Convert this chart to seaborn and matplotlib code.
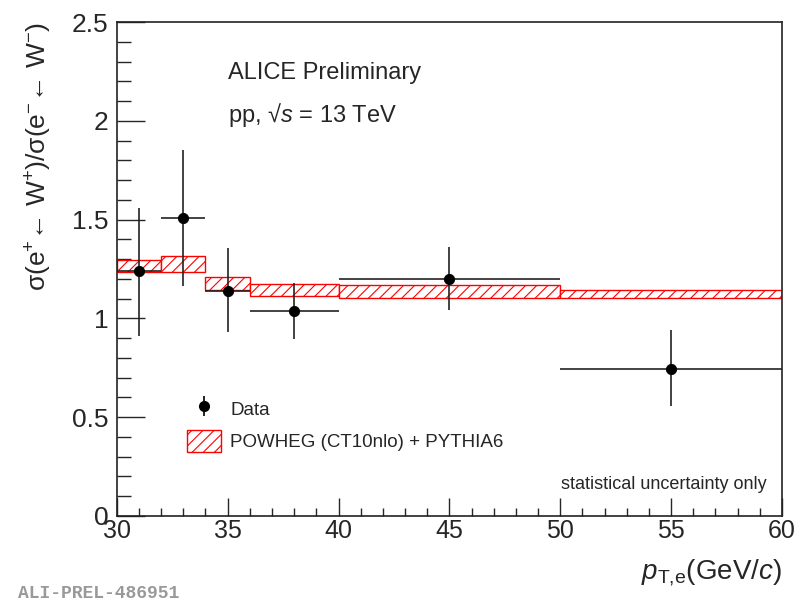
import seaborn as sns
import matplotlib.pyplot as plt
import pandas as pd
from matplotlib.ticker import MultipleLocator
from matplotlib.lines import Line2D
from matplotlib.patches import Patch

# bins in pT (GeV/c)
bin_lo = [30, 32, 34, 36, 40, 50]
bin_hi = [32, 34, 36, 40, 50, 60]

# data ratio with stat. errors
ratio = [1.24, 1.51, 1.14, 1.035, 1.20, 0.745]
err_up = [0.32, 0.34, 0.215, 0.145, 0.16, 0.195]
err_dn = [0.33, 0.345, 0.21, 0.14, 0.16, 0.19]

# POWHEG band (low, high)
model_lo = [1.233, 1.234, 1.144, 1.113, 1.102, 1.102]
model_hi = [1.296, 1.317, 1.208, 1.174, 1.169, 1.144]

df = pd.DataFrame({
    "lo": bin_lo, "hi": bin_hi, "ratio": ratio,
    "eup": err_up, "edn": err_dn, "mlo": model_lo, "mhi": model_hi,
})
df["x"] = (df["lo"] + df["hi"]) / 2
df["xerr"] = (df["hi"] - df["lo"]) / 2

sns.set_style("ticks")
plt.rcParams["font.family"] = ["Liberation Sans", "DejaVu Sans"]
plt.rcParams["mathtext.fontset"] = "custom"
plt.rcParams["mathtext.rm"] = "Liberation Sans"
plt.rcParams["mathtext.it"] = "Liberation Sans:italic"
plt.rcParams["hatch.color"] = "red"
plt.rcParams["hatch.linewidth"] = 0.8

fig = plt.figure(figsize=(8, 6.04), dpi=100)
ax = fig.add_axes([0.146, 0.146, 0.8315, 0.8175])

# model band
ax.bar(df["lo"], df["mhi"] - df["mlo"], bottom=df["mlo"], width=df["hi"] - df["lo"],
       align="edge", facecolor="white", edgecolor="red", hatch="///", linewidth=1.0,
       zorder=2)

# data
ax.errorbar(df["x"], df["ratio"], xerr=df["xerr"], yerr=[df["edn"], df["eup"]],
            fmt="none", ecolor="#222222", elinewidth=1.2, capsize=0, zorder=3)
sns.scatterplot(data=df, x="x", y="ratio", ax=ax, color="black", s=55,
                edgecolor="black", zorder=4, legend=False)

ax.set_xlim(30, 60)
ax.set_ylim(0, 2.5)
ax.xaxis.set_major_locator(MultipleLocator(5))
ax.xaxis.set_minor_locator(MultipleLocator(1))
ax.yaxis.set_major_locator(MultipleLocator(0.5))
ax.yaxis.set_minor_locator(MultipleLocator(0.1))
ax.set_yticks([0, 0.5, 1, 1.5, 2, 2.5])
ax.set_yticklabels(["0", "0.5", "1", "1.5", "2", "2.5"])
ax.tick_params(axis="both", which="both", direction="in", top=False, right=False)
ax.tick_params(axis="y", which="major", length=20, width=1, pad=6, labelsize=19)
ax.tick_params(axis="y", which="minor", length=10, width=1)
ax.tick_params(axis="x", which="major", length=13, width=1, pad=2, labelsize=18)
ax.tick_params(axis="x", which="minor", length=6, width=1)
for s in ax.spines.values():
    s.set_linewidth(1.2)
    s.set_color("#222222")

ax.set_xlabel(r"$\mathit{p}_{\mathrm{T{,}e}}$(GeV/$\mathit{c}$)", fontsize=20)
ax.xaxis.set_label_coords(1.0, -0.085)
ax.xaxis.label.set_ha("right")
ax.set_ylabel("σ(e$^{+}$\u2190 W$^{+}$)/σ(e$^{-}$\u2190 W$^{-}$)", fontsize=19)
ax.yaxis.set_label_coords(-0.095, 1.0)
ax.yaxis.label.set_ha("right")

ax.text(0.167, 0.885, "ALICE Preliminary", transform=ax.transAxes, fontsize=17)
ax.text(0.167, 0.797, "pp, \u221a$\\mathit{s}$ = 13 TeV", transform=ax.transAxes, fontsize=17)
ax.text(0.668, 0.055, "statistical uncertainty only", transform=ax.transAxes, fontsize=13)

# legend: dot with vertical bar for data, hatched box for model
h_data = Line2D([], [], marker="o", color="black", linestyle="none", markersize=7)
h_bar = Line2D([], [], marker="|", color="black", linestyle="none", markersize=14,
               markeredgewidth=1.2)
h_mod = Patch(facecolor="white", edgecolor="red", hatch="///", linewidth=1.0)
ax.legend([(h_bar, h_data), h_mod], ["Data", "POWHEG (CT10nlo) + PYTHIA6"],
          loc="lower left", bbox_to_anchor=(0.08, 0.096), frameon=False,
          fontsize=13.5, handlelength=1.8, handleheight=1.4, labelspacing=0.55,
          handletextpad=0.5)

fig.text(0.0225, 0.01, "ALI-PREL-486951", fontsize=13, color="#999999",
         family="Liberation Mono", weight="bold")

fig.savefig("out.png", dpi=100)
